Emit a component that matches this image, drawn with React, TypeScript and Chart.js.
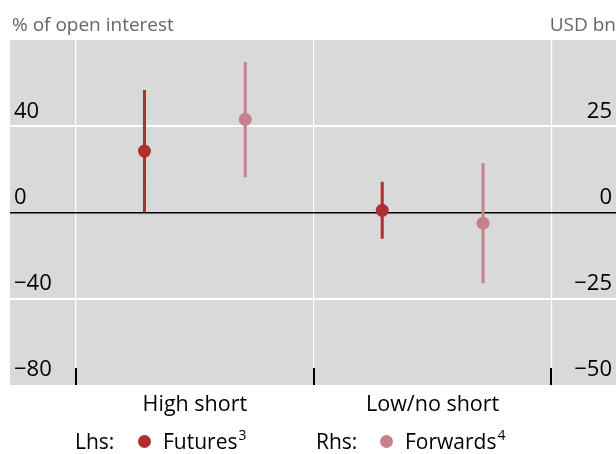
import { useEffect, useRef } from 'react';
import { Chart, registerables } from 'chart.js';
Chart.register(...registerables);

const categories = ['High short', 'Low/no short'];
const futuresValue = [28.5, 1.0];
const futuresLow = [0, -12.2];
const futuresHigh = [56.8, 14.3];
const forwardsValue = [27.0, -3.1];
const forwardsLow = [10.2, -20.5];
const forwardsHigh = [43.6, 14.3];
const leftTicks = [-80, -40, 0, 40];
const rightTicks = [-50, -25, 0, 25];
const xBoundaries = [-0.5, 0.5, 1.5];

const FUT = '#ad2f2f';
const FWD = '#c8808f';
const FONT = '"Open Sans", "DejaVu Sans", sans-serif';
const GROUP_OFFSET = 0.212;

function points(values: number[], off: number) {
  return values.map((v, i) => ({ x: i + off, y: v }));
}
function errorLine(lo: number[], hi: number[], off: number) {
  const pts: { x: number; y: number | null }[] = [];
  lo.forEach((l, i) => {
    pts.push({ x: i + off, y: l }, { x: i + off, y: hi[i] }, { x: i + off + 0.001, y: null });
  });
  return pts;
}

const bgPlugin = {
  id: 'plotBg',
  beforeDraw(chart: any) {
    const { ctx, chartArea } = chart;
    ctx.save();
    ctx.fillStyle = '#d9d9d9';
    ctx.fillRect(chartArea.left, chartArea.top, chartArea.right - chartArea.left, chartArea.bottom - chartArea.top);
    ctx.restore();
  },
};

const tickMarkPlugin = {
  id: 'tickMarks',
  afterDraw(chart: any) {
    const { ctx, chartArea, scales } = chart;
    const xs = scales.x;
    ctx.save();
    ctx.strokeStyle = '#000';
    ctx.lineWidth = 2;
    xBoundaries.forEach((v) => {
      const px = Math.round(xs.getPixelForValue(v));
      ctx.beginPath();
      ctx.moveTo(px, chartArea.bottom - 17);
      ctx.lineTo(px, chartArea.bottom);
      ctx.stroke();
    });
    ctx.restore();
  },
};

export default function App() {
  const ref = useRef<HTMLCanvasElement>(null);
  useEffect(() => {
    document.body.style.margin = '0';
    const chart = new Chart(ref.current!, {
      type: 'scatter',
      data: {
        datasets: [
          {
            label: 'Futures',
            data: points(futuresValue, -GROUP_OFFSET),
            yAxisID: 'y',
            backgroundColor: FUT,
            borderColor: FUT,
            pointRadius: 6.5,
            pointBorderWidth: 0,
          },
          {
            label: 'Forwards',
            data: points(forwardsValue, GROUP_OFFSET),
            yAxisID: 'y1',
            backgroundColor: FWD,
            borderColor: FWD,
            pointRadius: 6.5,
            pointBorderWidth: 0,
          },
          {
            label: 'Futures range',
            data: errorLine(futuresLow, futuresHigh, -GROUP_OFFSET),
            yAxisID: 'y',
            showLine: true,
            spanGaps: false,
            borderColor: FUT,
            borderWidth: 3,
            pointRadius: 0,
          },
          {
            label: 'Forwards range',
            data: errorLine(forwardsLow, forwardsHigh, GROUP_OFFSET),
            yAxisID: 'y1',
            showLine: true,
            spanGaps: false,
            borderColor: FWD,
            borderWidth: 3,
            pointRadius: 0,
          },
        ] as any,
      },
      options: {
        animation: false,
        responsive: false,
        layout: { autoPadding: false, padding: { left: 10, right: 0, top: 40, bottom: 38 } },
        plugins: { legend: { display: false }, tooltip: { enabled: false } },
        scales: {
          x: {
            type: 'linear',
            min: -0.7776,
            max: 1.7713,
            afterBuildTicks: (axis: any) => {
              axis.ticks = [-0.5, 0, 0.5, 1, 1.5].map((v) => ({ value: v }));
            },
            afterFit: (axis: any) => {
              axis.height = 31;
              axis.paddingLeft = 0;
              axis.paddingRight = 0;
            },
            grid: {
              color: (c: any) => (Number.isInteger(c.tick.value) ? 'rgba(0,0,0,0)' : '#ffffff'),
              lineWidth: 1.2,
              drawTicks: false,
            },
            border: { display: false },
            ticks: {
              autoSkip: false,
              maxRotation: 0,
              padding: 7,
              color: '#000',
              font: { family: FONT, size: 21.5 },
              callback: (v: any) => (Number.isInteger(v) ? categories[v] : ''),
            },
          },
          y: {
            type: 'linear',
            position: 'left',
            min: -80,
            max: 80,
            afterBuildTicks: (axis: any) => {
              axis.ticks = leftTicks.map((v) => ({ value: v }));
            },
            afterFit: (axis: any) => {
              axis.width = 0;
              axis.paddingTop = 0;
              axis.paddingBottom = 0;
            },
            grid: {
              color: (c: any) => (c.tick.value === 0 ? '#000000' : c.tick.value === -80 ? 'rgba(0,0,0,0)' : '#ffffff'),
              lineWidth: (c: any) => (c.tick.value === 0 ? 1.5 : 2),
              drawTicks: false,
            },
            border: { display: false },
            ticks: {
              mirror: true,
              padding: 4,
              labelOffset: -15,
              color: '#000',
              font: { family: FONT, size: 22 },
              callback: (v: any) => String(v).replace('-', '\u2212'),
            },
          },
          y1: {
            type: 'linear',
            position: 'right',
            min: -50,
            max: 50,
            afterBuildTicks: (axis: any) => {
              axis.ticks = rightTicks.map((v) => ({ value: v }));
            },
            afterFit: (axis: any) => {
              axis.width = 0;
              axis.paddingTop = 0;
              axis.paddingBottom = 0;
            },
            grid: { display: false, drawTicks: false },
            border: { display: false },
            ticks: {
              mirror: true,
              padding: -4,
              labelOffset: -15,
              color: '#000',
              font: { family: FONT, size: 22 },
              callback: (v: any) => String(v).replace('-', '\u2212'),
            },
          },
        },
      } as any,
      plugins: [bgPlugin, tickMarkPlugin],
    });
    return () => chart.destroy();
  }, []);

  const txt: any = { position: 'absolute', whiteSpace: 'nowrap', fontFamily: FONT, lineHeight: '24px' };
  const dot = (color: string, left: number): any => ({
    position: 'absolute', left, top: 435, width: 13, height: 13, borderRadius: '50%', background: color,
  });
  const sup: any = { fontSize: 14, position: 'relative', top: -9, marginLeft: 1 };

  return (
    <div style={{ position: 'relative', width: 616, height: 454, overflow: 'hidden', background: '#fff' }}>
      <canvas ref={ref} width={616} height={454} style={{ position: 'absolute', left: 0, top: 0 }} />
      <div style={{ ...txt, left: 12, top: 12, fontSize: 19, color: '#666' }}>% of open interest</div>
      <div style={{ ...txt, right: 0, top: 12, fontSize: 19, color: '#666' }}>USD bn</div>
      <div style={{ ...txt, left: 75, top: 429, fontSize: 21, color: '#000' }}>Lhs:</div>
      <div style={dot(FUT, 138)} />
      <div style={{ ...txt, left: 163, top: 429, fontSize: 21, color: '#000' }}>
        Futures<span style={sup}>3</span>
      </div>
      <div style={{ ...txt, left: 316, top: 429, fontSize: 21, color: '#000' }}>Rhs:</div>
      <div style={dot(FWD, 380)} />
      <div style={{ ...txt, left: 405, top: 429, fontSize: 21, color: '#000' }}>
        Forwards<span style={sup}>4</span>
      </div>
    </div>
  );
}
